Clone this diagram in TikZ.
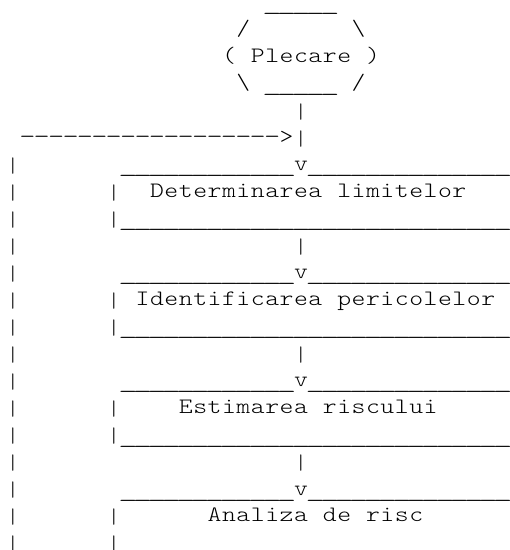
\documentclass[tikz,border=0pt]{standalone}
\usepackage{fontspec}
\usepackage{graphicx}
\ExplSyntaxOn
\cs_new:Npn \asrep #1#2 { \prg_replicate:nn {#1} {#2} }
\cs_new_protected:Npn \cellstr #1 { \str_map_inline:nn {#1} { \cellc{##1} } }
\ExplSyntaxOff
% one character cell of the ASCII grid (glyphs widened to a Courier-like shape)
\newcommand\cellr[1]{\makebox[14.4pt][c]{#1}}
\newcommand\cellc[1]{\cellr{\scalebox{1.2}[1]{#1}}}
\newcommand\Uc{\cellr{\raisebox{-2pt}{\scalebox{1.68}[1]{\char"5F}}}}
\newcommand\Dc{\cellr{\scalebox{1.4}[1]{\char"2D}}}
\newcommand\Us[1]{\asrep{#1}{\Uc}}
\newcommand\Ds[1]{\asrep{#1}{\Dc}}
\newcommand\Bs{\cellc{\char"5C}}
\newcommand\Bar{\cellr{\raisebox{-3.5pt}{\resizebox{!}{16.5pt}{\raisebox{\depth}{|}}}}}
\tikzset{asc/.style={anchor=base west, inner sep=0pt, outer sep=0pt,
  font=\ttfamily\fontsize{22}{27}\fontseries{l}\selectfont, text=black}}
% #1 name, #2 column, #3 row, #4 text
\newcommand\ascrow[4]{\node[asc] (#1) at ({5.8pt+#2*14.4pt},{541pt-(#3-1)*27pt}) {#4};}
\begin{document}
\begin{tikzpicture}
\useasboundingbox (0,0) rectangle (510pt,550pt);
% start terminal
\ascrow{htop}{18}{1}{\Us{5}}
\ascrow{hul}{16}{2}{\cellc{/}}
\ascrow{hur}{24}{2}{\Bs}
\ascrow{start}{15}{3}{\cellstr{( Plecare )}}
\ascrow{hll}{16}{4}{\Bs}
\ascrow{hbot}{18}{4}{\Us{5}}
\ascrow{hlr}{24}{4}{\cellc{/}}
\ascrow{s1}{20}{5}{\Bar}
% feedback arrow
\ascrow{fb}{1}{6}{\Ds{18}}
\ascrow{fbh}{19}{6}{\cellc{>}\Bar}
\foreach \r in {7,...,21}{\ascrow{left\r}{0}{\r}{\Bar}}
% boxes
\foreach \k/\txt/\c in {0/Determinarea limitelor/10,1/Identificarea pericolelor/9,2/Estimarea riscului/12,3/Analiza de risc/14}{
  \pgfmathtruncatemacro\r{7+4*\k}
  \pgfmathtruncatemacro\ra{\r+1}
  \pgfmathtruncatemacro\rb{\r+2}
  \ascrow{top\k a}{8}{\r}{\Us{12}}
  \ascrow{arr\k}{20}{\r}{\cellc{v}}
  \ascrow{top\k b}{21}{\r}{\Us{18}}
  \ascrow{sa\k}{7}{\ra}{\Bar}
  \ascrow{box\k}{\c}{\ra}{\expandafter\cellstr\expandafter{\txt}}
  \ascrow{sb\k}{7}{\rb}{\Bar}
}
\ascrow{bot0}{8}{9}{\Us{30}}
\ascrow{bot1}{8}{13}{\Us{30}}
\ascrow{bot2}{8}{17}{\Us{30}}
\ascrow{c1}{20}{10}{\Bar}
\ascrow{c2}{20}{14}{\Bar}
\ascrow{c3}{20}{18}{\Bar}
\end{tikzpicture}
\end{document}
